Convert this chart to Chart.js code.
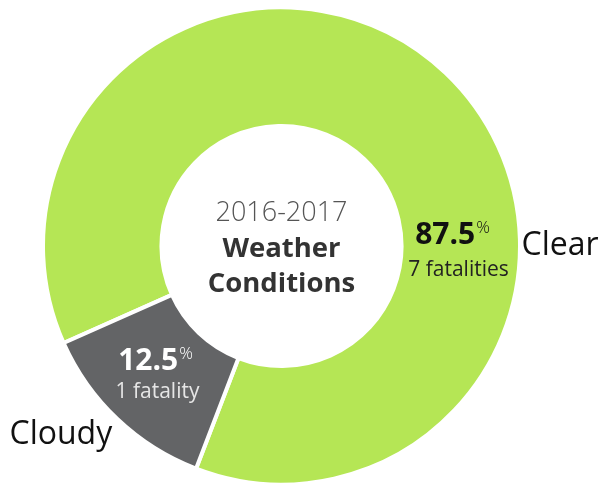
<!DOCTYPE html>
<html>
<head>
<meta charset="utf-8">
<script src="https://cdn.jsdelivr.net/npm/chart.js@4/dist/chart.umd.min.js"></script>
<style>
  html, body { margin: 0; padding: 0; background: #fff; overflow: hidden; }
  #wrap { width: 603px; height: 490px; position: relative; }
</style>
</head>
<body>
<div id="wrap"><canvas id="c"></canvas></div>
<script>
// ---- data ----
const categories = ['Clear', 'Cloudy'];
const fatalities = [7, 1];
const fatalityLabels = ['7 fatalities', '1 fatality'];
const sliceColors = ['#b5e655', '#636466'];
const centerTitle = ['2016-2017', 'Weather', 'Conditions'];

const FONT = '"Open Sans", "Noto Sans", sans-serif';
const total = fatalities.reduce((a, b) => a + b, 0);

function drawPct(ctx, pctText, x, y, size, color) {
  const small = Math.round(size * 0.55);
  ctx.font = `bold ${size}px ${FONT}`;
  const w1 = ctx.measureText(pctText).width;
  ctx.font = `300 ${small}px ${FONT}`;
  const w2 = ctx.measureText('%').width;
  const left = x - (w1 + w2 + 1) / 2;
  ctx.fillStyle = color;
  ctx.textAlign = 'left';
  ctx.textBaseline = 'alphabetic';
  ctx.font = `bold ${size}px ${FONT}`;
  ctx.fillText(pctText, left, y);
  ctx.font = `300 ${small}px ${FONT}`;
  ctx.fillText('%', left + w1 + 1, y - size * 0.36);
}

const labelPlugin = {
  id: 'labels',
  afterDraw(chart) {
    const ctx = chart.ctx;
    const meta = chart.getDatasetMeta(0);
    const arc0 = meta.data[0];
    const cx = arc0.x, cy = arc0.y;
    ctx.save();
    // center title
    ctx.textAlign = 'center';
    ctx.textBaseline = 'alphabetic';
    ctx.fillStyle = '#555';
    ctx.font = `300 27px ${FONT}`;
    ctx.fillText(centerTitle[0], cx, cy - 25);
    ctx.fillStyle = '#333';
    ctx.font = `bold 27.5px ${FONT}`;
    ctx.fillText(centerTitle[1], cx, cy + 11);
    ctx.fillText(centerTitle[2], cx, cy + 46);

    // Clear slice labels
    const pct0 = (fatalities[0] / total * 100).toFixed(1);
    drawPct(ctx, pct0, cx + 171, cy - 2, 30, '#111');
    ctx.textAlign = 'center';
    ctx.fillStyle = '#222';
    ctx.font = `21px ${FONT}`;
    ctx.fillText(fatalityLabels[0], cx + 177, cy + 30);

    // Cloudy slice labels
    const pct1 = (fatalities[1] / total * 100).toFixed(1);
    drawPct(ctx, pct1, cx - 126, cy + 124, 30, '#ffffff');
    ctx.textAlign = 'center';
    ctx.fillStyle = '#e6e6e6';
    ctx.font = `21px ${FONT}`;
    ctx.fillText(fatalityLabels[1], cx - 124, cy + 152);

    // category labels
    ctx.fillStyle = '#111';
    ctx.font = `32px ${FONT}`;
    ctx.textAlign = 'left';
    ctx.fillText(categories[0], cx + 240, cy + 9);
    ctx.fillText(categories[1], cx - 272, cy + 198);
    ctx.restore();
  }
};

new Chart(document.getElementById('c'), {
  type: 'doughnut',
  data: {
    labels: categories,
    datasets: [{
      data: fatalities,
      backgroundColor: sliceColors,
      borderColor: '#ffffff',
      borderWidth: 4,
      hoverOffset: 0
    }]
  },
  options: {
    responsive: true,
    maintainAspectRatio: false,
    animation: false,
    rotation: 246,
    cutout: 120,
    layout: { padding: { left: 41, right: 81, top: 5.5, bottom: 3.5 } },
    plugins: { legend: { display: false }, tooltip: { enabled: false } },
    events: []
  },
  plugins: [labelPlugin]
});
</script>
</body>
</html>
